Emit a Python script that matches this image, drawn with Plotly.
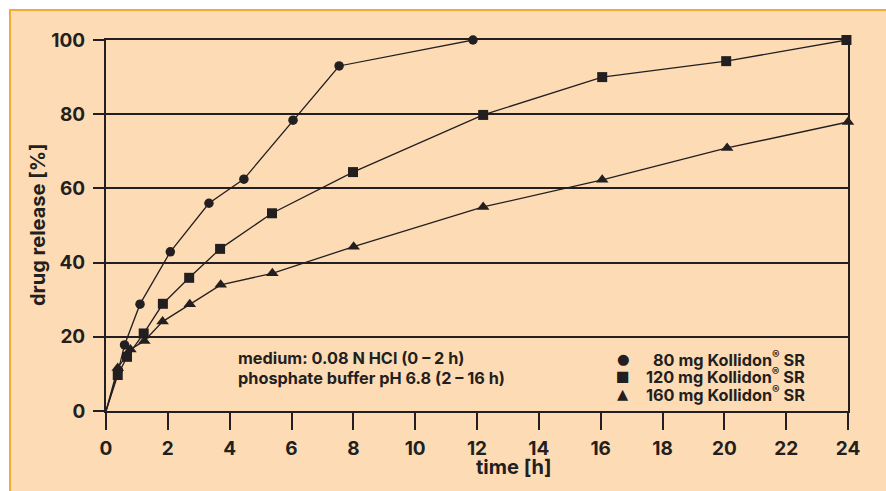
import plotly.graph_objects as go

# Release profiles (time in h, drug release in %)
t_80 = [0, 0.4, 0.6, 1.1, 2.08, 3.33, 4.46, 6.05, 7.54, 11.87]
r_80 = [0, 11.0, 17.8, 28.8, 42.9, 56.0, 62.5, 78.4, 93.0, 100.0]

t_120 = [0, 0.38, 0.68, 1.22, 1.84, 2.69, 3.69, 5.37, 7.99, 12.2, 16.05, 20.06, 23.95]
r_120 = [0, 9.7, 14.6, 20.9, 28.9, 35.9, 43.7, 53.3, 64.4, 79.8, 90.0, 94.3, 100.0]

t_160 = [0, 0.38, 0.79, 1.24, 1.83, 2.71, 3.71, 5.38, 8.01, 12.2, 16.05, 20.09, 24.0]
r_160 = [0, 11.6, 16.6, 18.9, 24.1, 28.8, 34.0, 37.1, 44.3, 55.0, 62.3, 70.9, 77.9]

series_names = ["80 mg Kollidon<sup>®</sup> SR",
                "120 mg Kollidon<sup>®</sup> SR",
                "160 mg Kollidon<sup>®</sup> SR"]
legend_glyphs = ["●", "■", "▲"]

x_ticks = list(range(0, 25, 2))
y_ticks = list(range(0, 101, 20))

INK = "#231f20"
PEACH = "#fddcb5"
ORANGE = "#f5a83c"
FONT = "Inter"

W, H = 886, 491
ML, MR, MT, MB = 106, 38, 40, 80
PW, PH = W - ML - MR, H - MT - MB


def px_x(px):
    return (px - ML) / PW


def px_y(py):
    return (H - MB - py) / PH


fig = go.Figure()

for t, r, sym, size in [(t_80, r_80, "circle", 9.5),
                        (t_120, r_120, "square", 10),
                        (t_160, r_160, "triangle-up", 11)]:
    # connecting line starts at the origin
    fig.add_trace(go.Scatter(
        x=t, y=r, mode="lines", line=dict(color=INK, width=1.3),
        cliponaxis=False, showlegend=False, hoverinfo="skip"))
    # measured points (origin has no symbol)
    fig.add_trace(go.Scatter(
        x=t[1:], y=r[1:], mode="markers",
        marker=dict(symbol=sym, size=size, color=INK, opacity=1,
                    line=dict(width=0)),
        cliponaxis=False, showlegend=False, hoverinfo="skip"))

axis_font = dict(family=FONT, size=19, color=INK, weight="bold")

fig.update_xaxes(range=[0, 24], tickvals=x_ticks, ticks="outside", ticklen=17,
                 tickwidth=2, tickcolor=INK, showgrid=False, zeroline=False,
                 showline=True, linecolor=INK, linewidth=2, mirror=True,
                 tickfont=axis_font, ticklabelstandoff=2)
fig.update_yaxes(range=[0, 100], tickvals=y_ticks, ticks="outside", ticklen=11,
                 tickwidth=2, tickcolor=INK, showgrid=True, gridcolor=INK,
                 gridwidth=2, zeroline=False, showline=True, linecolor=INK,
                 linewidth=2, mirror=True, tickfont=axis_font,
                 ticklabelstandoff=4)

# tinted panel with orange frame
fig.add_shape(type="rect", xref="paper", yref="paper", layer="below",
              x0=px_x(10), x1=px_x(W + 20), y0=px_y(H + 20), y1=px_y(10),
              fillcolor=PEACH, line=dict(color=ORANGE, width=2))

title_font = dict(family=FONT, size=20, color=INK, weight="bold")
fig.add_annotation(text="time [h]", xref="paper", yref="paper",
                   x=px_x(514), y=px_y(467), showarrow=False, font=title_font,
                   xanchor="center", yanchor="middle")
fig.add_annotation(text="drug release [%]", xref="paper", yref="paper",
                   x=px_x(38), y=px_y(225), showarrow=False, font=title_font,
                   textangle=-90, xanchor="center", yanchor="middle")

note_font = dict(family=FONT, size=16.3, color=INK, weight="bold")
notes = ["medium: 0.08 N HCl (0 \u2013 2 h)",
         "phosphate buffer pH 6.8 (2 \u2013 16 h)"]
for i, txt in enumerate(notes):
    fig.add_annotation(text=txt, xref="paper", yref="paper",
                       x=px_x(236), y=px_y(358 + 20 * i), showarrow=False,
                       font=note_font, xanchor="left", yanchor="middle")

# legend: symbol + right-aligned label
for i, (g, name) in enumerate(zip(legend_glyphs, series_names)):
    yy = px_y(359 + 17.3 * i)
    fig.add_annotation(text=name, xref="paper", yref="paper", x=px_x(807),
                       y=yy, showarrow=False, font=note_font,
                       xanchor="right", yanchor="middle")
    fig.add_annotation(text=g, xref="paper", yref="paper", x=px_x(623),
                       y=yy, showarrow=False,
                       font=dict(family="DejaVu Sans", size=14.5, color=INK),
                       xanchor="center", yanchor="middle")

fig.update_layout(width=W, height=H, margin=dict(l=ML, r=MR, t=MT, b=MB),
                  paper_bgcolor="white", plot_bgcolor="rgba(0,0,0,0)",
                  showlegend=False)

fig.write_html("out.html")
